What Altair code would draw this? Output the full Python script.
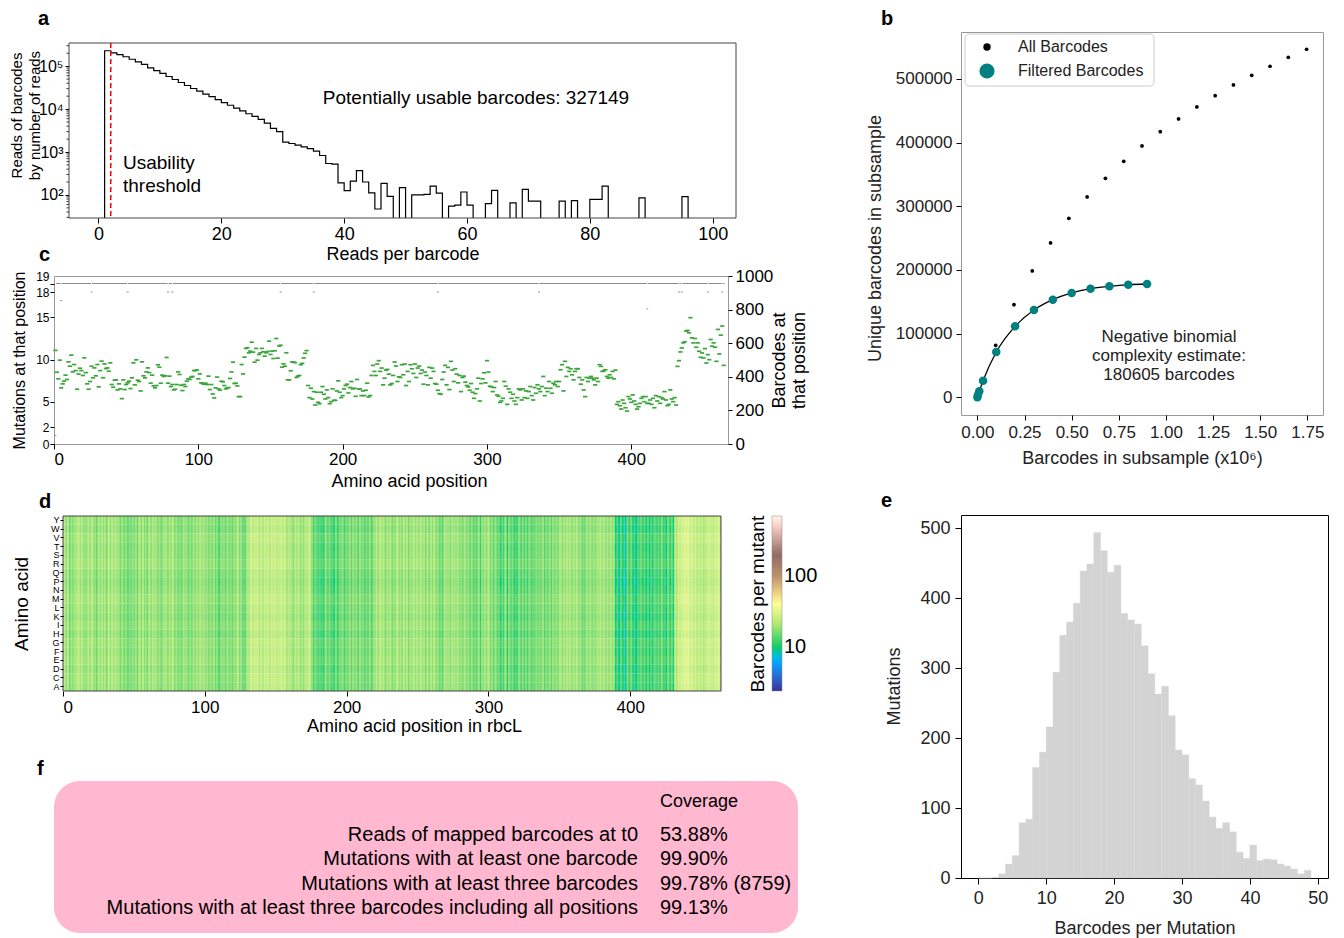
import altair as alt
import pandas as pd

FONT = "Liberation Sans"

# ---------------- panel a : reads per barcode histogram ----------------
a_bins = list(range(1, 96))
a_counts = [229000, 204000, 186000, 166000, 145000, 126000, 110000, 91000, 79000, 68000,
            57500, 49000, 41700, 35500, 30200, 26300, 22400, 19500, 16600, 14100,
            12300, 10500, 9100, 7800, 6800, 5750, 4700, 3550, 3000, 1700,
            1580, 1450, 1320, 1200, 1050, 830, 540, 525, 190, 126,
            210, 370, 200, 112, 47, 186, 93, 0, 148, 0,
            100, 100, 103, 160, 110, 0, 55, 58, 117, 58,
            0, 0, 63, 128, 0, 0, 65, 0, 135, 72,
            72, 0, 0, 0, 72, 0, 74, 0, 0, 79,
            79, 160, 0, 0, 0, 0, 0, 85, 0, 0,
            0, 0, 0, 0, 91]
a_threshold = [2]
a_major_ticks = [100, 1000, 10000, 100000]
a_minor_ticks = [30, 40, 50, 60, 70, 80, 90,
                 200, 300, 400, 500, 600, 700, 800, 900,
                 2000, 3000, 4000, 5000, 6000, 7000, 8000, 9000,
                 20000, 30000, 40000, 50000, 60000, 70000, 80000, 90000,
                 200000, 300000]
a_note = "Potentially usable barcodes: 327149"
a_thr_note = "Usability\nthreshold"

# ---------------- panel b : complexity curve ----------------
b_all_x = [0.097, 0.194, 0.291, 0.388, 0.485, 0.582, 0.679, 0.776, 0.873, 0.970,
           1.067, 1.164, 1.261, 1.358, 1.455, 1.552, 1.649, 1.746]
b_all_y = [81700, 145500, 198400, 242400, 281200, 314700, 344000, 370700, 394800, 417200,
           437200, 456000, 473800, 490600, 505800, 520000, 534100, 546700]
b_filt_x = [0.0, 0.003, 0.01, 0.03, 0.1, 0.2, 0.3, 0.4, 0.5, 0.6, 0.7, 0.8, 0.9]
b_filt_y = [0, 3500, 9400, 26100, 71200, 111500, 137100, 153300, 163900, 170600, 174300, 176900, 178000]
b_series = ["All Barcodes", "Filtered Barcodes"]
b_note = "Negative binomial\ncomplexity estimate:\n180605 barcodes"

# ---------------- panel c : per-position coverage ----------------
c_barcodes = [
    557, 427, 388, 499, 334, 358, 374, 410, 384, 489, 463, 529, 429, 473, 437, 326, 416, 451, 437, 408,
    513, 425, 358, 326, 372, 463, 394, 453, 406, 473, 340, 437, 493, 394, 477, 449, 453, 433, 483, 354,
    338, 380, 382, 322, 358, 328, 270, 382, 324, 354, 364, 374, 330, 394, 483, 352, 501, 380, 372, 316,
    489, 406, 394, 429, 453, 425, 362, 410, 346, 334, 348, 471, 457, 362, 410, 402, 406, 515, 362, 404,
    342, 354, 322, 326, 354, 429, 414, 350, 318, 354, 342, 374, 388, 384, 398, 402, 437, 437, 441, 388,
    417, 364, 360, 356, 362, 354, 404, 324, 354, 298, 274, 334, 398, 328, 320, 374, 370, 348, 328, 334,
    336, 390, 429, 487, 360, 362, 346, 282, 282, 473, 417, 517, 569, 573, 543, 553, 606, 547, 487, 569,
    499, 533, 543, 569, 549, 523, 543, 551, 612, 533, 553, 509, 555, 628, 511, 583, 588, 457, 477, 463,
    543, 382,
    382, 436, 488, 488, 484, 396, 404, 408, 472, 480, 512, 540, 556,
    348, 276, 332, 268, 312, 232, 308, 248, 240, 308, 342, 296, 268, 322, 276, 240, 252, 328, 260, 260,
    316, 376, 308, 276, 288, 328, 348, 356, 304, 336, 372, 328, 332, 284, 384, 328, 328, 288, 316, 288,
    320, 362, 280, 288,
    408, 468, 432, 408, 476, 496, 432, 452, 352, 392, 440, 444, 416, 352, 360, 408, 488, 464, 372, 400,
    396, 472, 412, 476, 348, 432, 372, 472, 448, 420, 476, 396, 452, 464, 420, 440, 356, 428, 408, 352,
    456, 392, 452, 432, 360,
    356, 320, 300, 296, 384, 428, 468, 352, 456, 324, 492, 440, 372, 448, 416, 364, 408, 312, 396, 404,
    368, 348, 340, 320, 360, 308, 272, 300, 328, 392, 256, 360, 388, 424, 364, 496, 428, 344, 340, 312,
    336, 372, 292, 284, 248, 256, 272, 372, 344, 236, 328, 308, 272, 296, 256, 236, 276, 328,
    322, 262, 328, 276, 316, 272, 312, 342, 288, 262, 336, 302, 352, 328, 312, 342, 402, 288, 332, 312,
    372, 332, 302, 362, 352, 372, 342, 372, 442, 472, 316, 492, 402, 456, 432, 448, 412, 382, 432, 448,
    448, 396, 356, 382, 322, 282, 396, 372, 392, 402, 392, 382, 352, 392, 372, 472, 462, 432, 436, 442,
    402, 392, 412, 396, 432, 388, 440,
    236, 252, 228, 208, 262, 242, 216, 196, 282, 268, 248, 292, 256, 236, 208, 222, 242, 272, 282, 252,
    282, 242, 242, 262, 236, 272, 216, 288, 256, 282, 242, 276, 268, 312, 262, 228, 236, 322, 268, 252,
    276, 232,
    462, 496, 548, 572, 602, 608, 672, 676, 662, 752, 632, 602, 628, 576, 602, 552, 516, 542, 512, 568,
    482, 532, 502, 622, 582, 602, 576, 492, 682, 536, 648, 702, 468]
c_positions = list(range(1, len(c_barcodes) + 1))
c_mut_default = 19
c_mut_exceptions = {1: 1, 5: 17, 26: 18, 51: 18, 79: 18, 82: 18, 157: 18, 180: 18, 266: 18,
                    336: 18, 411: 16, 433: 18, 435: 18, 453: 18, 463: 18}

# ---------------- panel d : heatmap ----------------
d_amino = ["Y", "W", "V", "T", "S", "R", "Q", "P", "N", "M", "L", "K", "I", "H", "G", "F", "E", "D", "C", "A"]
d_row_factor = [0.8, 0.76, 0.84, 0.78, 0.8, 0.85, 0.78, 0.74, 0.78, 0.85,
                0.8, 0.76, 0.83, 0.76, 0.84, 0.8, 0.85, 0.78, 0.83, 0.8]
d_color_domain = [2.34, 5.5, 9.8, 40.8, 170, 710]
d_color_range = ["#333399", "#0099ff", "#00cc66", "#ffff99", "#805c54", "#ffffff"]

# ---------------- panel e : barcodes per mutation ----------------
e_bins = list(range(0, 49))
e_counts = [0, 0, 1, 6, 20, 32, 79, 84, 158, 180,
            216, 294, 347, 366, 393, 439, 449, 494, 468, 437,
            447, 378, 369, 363, 332, 292, 263, 274, 232, 183,
            176, 142, 133, 110, 87, 71, 79, 66, 37, 28,
            47, 25, 27, 26, 20, 17, 13, 6, 11]

# ---------------- panel f : coverage table ----------------
f_labels = ["Reads of mapped barcodes at t0", "Mutations with at least one barcode",
            "Mutations with at least three barcodes",
            "Mutations with at least three barcodes including all positions"]
f_values = ["53.88%", "99.90%", "99.78% (8759)", "99.13%"]
f_header = "Coverage"

PINK = "#ffb8d0"
TEAL = "#008080"
GREEN = "#3aa63a"


def note(text, x, y, **kw):
    return alt.Chart(pd.DataFrame({"t": [text]})).mark_text(**kw).encode(
        x=alt.value(x), y=alt.value(y), text="t:N")


def letter(ch, x, y):
    return note(ch, x, y, fontSize=20, fontWeight="bold", align="left", baseline="alphabetic")


def spacer(h):
    return alt.Chart(pd.DataFrame({"s": [0]})).mark_point(opacity=0).encode(
        x=alt.X("s:Q", axis=None), y=alt.Y("s:Q", axis=None)
    ).properties(width=1, height=h)


def frame(x0, x1, h, color):
    return alt.Chart(pd.DataFrame({"k": [0]})).mark_rect(fillOpacity=0, stroke=color, strokeWidth=1).encode(
        x=alt.value(x0), x2=alt.value(x1), y=alt.value(0), y2=alt.value(h))


# ---------- a (plot area starts 15px right of column edge) ----------
A_OFF, A_W, A_H = 15, 682, 175
rows = [{"o": 0, "x": a_bins[0], "n": 1}]
for i, (b, c) in enumerate(zip(a_bins, a_counts)):
    rows.append({"o": i + 1, "x": b, "n": c if c > 0 else 1})
rows.append({"o": len(a_bins) + 1, "x": a_bins[-1] + 1, "n": 1})
df_a = pd.DataFrame(rows)

ax_a_x = alt.Axis(values=[0, 20, 40, 60, 80, 100], title="Reads per barcode", labelFontSize=18,
                  titleFontSize=18, tickSize=5, labelPadding=2, domain=False, titleY=36,
                  titleBaseline="middle", labelOverlap=False)
ax_a_y = alt.Axis(values=a_major_ticks,
                  labelExpr="datum.value == 100 ? '10²' : datum.value == 1000 ? '10³' : datum.value == 10000 ? '10⁴' : '10⁵'",
                  title=["Reads of barcodes", "by number of reads"], labelFontSize=16,
                  titleFontSize=15, titleLineHeight=18, tickSize=4, labelPadding=2, domain=False,
                  titleX=-53, titleY=72, titleBaseline="middle", offset=-A_OFF, labelOverlap=False)
ya = alt.Y("n:Q", scale=alt.Scale(type="log", domain=[29, 347000], nice=False), axis=ax_a_y)

a_line = alt.Chart(df_a).mark_line(interpolate="step-after", color="black", strokeWidth=1.2, clip=True).encode(
    x=alt.X("x:Q", scale=alt.Scale(domain=[-4.8, 103.8], nice=False, zero=False, range=[A_OFF, A_W]),
            axis=ax_a_x),
    y=ya, order="o:Q")
a_minor = alt.Chart(pd.DataFrame({"n": a_minor_ticks})).mark_rule(color="black", strokeWidth=0.8).encode(
    x=alt.value(A_OFF - 2.5), x2=alt.value(A_OFF), y=ya)
a_rule = alt.Chart(pd.DataFrame({"t": a_threshold})).mark_rule(color="red", strokeDash=[5, 3], strokeWidth=1.5).encode(
    x="t:Q")
a_txt1 = note(a_note, 422, 55, fontSize=19, align="center", baseline="middle")
a_txt2 = note(a_thr_note, 69, 120, fontSize=19, align="left", baseline="middle", lineBreak="\n", lineHeight=23)
chart_a = alt.layer(a_line, a_minor, a_rule, a_txt1, a_txt2, frame(A_OFF, A_W, A_H, "#444"),
                    letter("a", -16, -18)).properties(width=A_W, height=A_H)

# ---------- c ----------
c_mut = [c_mut_exceptions.get(p, c_mut_default) for p in c_positions]
df_cb = pd.DataFrame({"pos": c_positions, "bc": c_barcodes})
df_cm = pd.DataFrame({"pos": c_positions, "mut": c_mut})
dash = "M-1,-0.4L1,-0.4L1,0.4L-1,0.4Z"
xc = alt.X("pos:Q", scale=alt.Scale(domain=[0, 467], nice=False, zero=False),
           axis=alt.Axis(values=[0, 100, 200, 300, 400], title="Amino acid position", labelFontSize=17,
                         titleFontSize=18, tickSize=5, labelPadding=2, domain=False, titleY=37,
                         titleX=355, titleBaseline="middle", labelOverlap=False))
c_m = alt.Chart(df_cm).mark_point(shape=dash, filled=True, size=4, color="#777", opacity=1).encode(
    x=xc,
    y=alt.Y("mut:Q", scale=alt.Scale(domain=[0, 19.9], nice=False, zero=True),
            axis=alt.Axis(orient="left", values=[0, 2, 5, 10, 15, 18, 19], title="Mutations at that position",
                          labelFontSize=12, titleFontSize=16, tickSize=4, labelPadding=1, domain=False,
                          titleX=-35, titleY=84, titleBaseline="middle", labelOverlap=False,
                          labelBaseline={"condition": {"test": "datum.value == 19", "value": "bottom"},
                                         "value": "middle"})))
c_b = alt.Chart(df_cb).mark_point(shape=dash, filled=True, size=18, color=GREEN, opacity=1).encode(
    x=xc,
    y=alt.Y("bc:Q", scale=alt.Scale(domain=[0, 1000], nice=False),
            axis=alt.Axis(orient="right", values=[0, 200, 400, 600, 800, 1000], format="d",
                          title=["Barcodes at", "that position"], labelFontSize=17,
                          titleFontSize=18, titleLineHeight=20, titleAngle=270, tickSize=4,
                          labelPadding=3, domain=False, titleX=51, titleBaseline="middle",
                          labelOverlap=False)))
chart_c = alt.layer(c_m, c_b, letter("c", -15, -15)).resolve_scale(y="independent").properties(
    width=674, height=168, view=alt.ViewBackground(stroke="#999", strokeWidth=1))

# ---------- d (plot area starts 9px right of column edge) ----------
D_OFF, D_W, D_H = 9, 667, 175
cells = []
for p, g in zip(c_positions, c_barcodes):
    for aa, f in zip(d_amino, d_row_factor):
        cells.append({"x0": p - 1, "x1": p, "aa": aa, "v": round(g / 19 * f, 2)})
df_d = pd.DataFrame(cells)
d_rect = alt.Chart(df_d).mark_rect(strokeWidth=0).encode(
    x=alt.X("x0:Q", scale=alt.Scale(domain=[0, len(c_positions)], nice=False, zero=False, range=[D_OFF, D_W]),
            axis=alt.Axis(values=[0, 100, 200, 300, 400], title="Amino acid position in rbcL",
                          labelFontSize=17, titleFontSize=18, tickSize=5, labelPadding=3, domain=False,
                          titleY=35, titleX=360, titleBaseline="middle", labelOverlap=False)),
    x2="x1:Q",
    y=alt.Y("aa:N", sort=d_amino,
            axis=alt.Axis(title="Amino acid", labelFontSize=9, titleFontSize=19, tickSize=3,
                          labelPadding=1, domain=False, titleX=-42, titleBaseline="middle",
                          offset=-D_OFF, labelOverlap=False)),
    color=alt.Color("v:Q", scale=alt.Scale(type="log", domain=d_color_domain, range=d_color_range),
                    legend=alt.Legend(title=None, orient="right", offset=51, gradientLength=175,
                                      gradientThickness=10, values=[10, 100], labelFontSize=20,
                                      direction="vertical", gradientStrokeColor="#888",
                                      gradientStrokeWidth=0.5, labelColor="black")))
d_txt = note("Barcodes per mutant", 704, 88, fontSize=19, angle=270, align="center", baseline="middle")
chart_d = alt.layer(d_rect, d_txt, frame(D_OFF, D_W, D_H, "#444"), letter("d", -15, -8)).properties(
    width=D_W, height=D_H)

# ---------- f ----------
df_f = pd.DataFrame({"row": list(range(len(f_labels))), "label": f_labels, "value": f_values})
f_rect = alt.Chart(pd.DataFrame({"k": [0]})).mark_rect(color=PINK, cornerRadius=26).encode(
    x=alt.value(0), x2=alt.value(744), y=alt.value(0), y2=alt.value(152))
f_head = note(f_header, 606, 21, fontSize=18, align="left", baseline="middle")
fy = alt.Y("row:O", axis=None, scale=alt.Scale(type="point", range=[54, 127], padding=0))
f_lab = alt.Chart(df_f).mark_text(fontSize=20, align="right", baseline="middle").encode(
    x=alt.value(584), y=fy, text="label:N")
f_val = alt.Chart(df_f).mark_text(fontSize=20, align="left", baseline="middle").encode(
    x=alt.value(606), y=fy, text="value:N")
chart_f = alt.layer(f_rect, f_head, f_lab, f_val, letter("f", -17, -6)).properties(width=744, height=152)

# ---------- b ----------
df_ball = pd.DataFrame({"x": b_all_x, "y": b_all_y})
df_bf = pd.DataFrame({"x": b_filt_x, "y": b_filt_y})
xb = alt.X("x:Q", scale=alt.Scale(domain=[-0.087, 1.833], nice=False, zero=False),
           axis=alt.Axis(values=[0, 0.25, 0.5, 0.75, 1.0, 1.25, 1.5, 1.75], format=".2f",
                         title="Barcodes in subsample (x10⁶)", labelFontSize=17, titleFontSize=18,
                         tickSize=5, labelPadding=4, domain=False, titleY=43, titleBaseline="middle",
                         labelColor="#222", titleColor="#222", labelOverlap=False))
yb = alt.Y("y:Q", scale=alt.Scale(domain=[-27800, 573800], nice=False, zero=False),
           axis=alt.Axis(values=[0, 100000, 200000, 300000, 400000, 500000], format="d",
                         title="Unique barcodes in subsample", labelFontSize=17, titleFontSize=18,
                         tickSize=5, labelPadding=4, domain=False, titleX=-86, titleY=206,
                         titleBaseline="middle", labelColor="#222", titleColor="#222",
                         labelOverlap=False))
b_line = alt.Chart(df_bf).mark_line(color="black", strokeWidth=1.3, interpolate="monotone").encode(x=xb, y=yb)
b_all = alt.Chart(df_ball).mark_circle(opacity=1, size=14, color="black").encode(x=xb, y=yb)
b_filt = alt.Chart(df_bf).mark_circle(opacity=1, size=72, color=TEAL).encode(x=xb, y=yb)
b_txt = note(b_note, 208, 305, fontSize=17, align="center", baseline="middle", lineBreak="\n",
             lineHeight=19, color="#222")
b_leg_box = alt.Chart(pd.DataFrame({"k": [0]})).mark_rect(
    fill="white", stroke="#cccccc", strokeWidth=1, cornerRadius=4).encode(
    x=alt.value(4), x2=alt.value(193), y=alt.value(2), y2=alt.value(54))
b_leg_s1 = alt.Chart(pd.DataFrame({"s": [b_series[0]]})).mark_circle(size=55, color="black", opacity=1).encode(
    x=alt.value(26), y=alt.value(15))
b_leg_s2 = alt.Chart(pd.DataFrame({"s": [b_series[1]]})).mark_circle(size=230, color=TEAL, opacity=1).encode(
    x=alt.value(26), y=alt.value(39))
b_leg_t1 = note(b_series[0], 57, 15, fontSize=16, align="left", baseline="middle", color="#222")
b_leg_t2 = note(b_series[1], 57, 39, fontSize=16, align="left", baseline="middle", color="#222")
chart_b = alt.layer(b_line, b_all, b_filt, b_txt, b_leg_box, b_leg_s1, b_leg_s2, b_leg_t1, b_leg_t2,
                    letter("b", -80, -7)).properties(
    width=362, height=383, view=alt.ViewBackground(stroke="#999", strokeWidth=1))

# ---------- e ----------
df_e = pd.DataFrame({"b0": e_bins, "b1": [b + 1 for b in e_bins], "n": e_counts})
e_bars = alt.Chart(df_e).mark_bar(color="#d3d3d3", stroke="#d3d3d3", strokeWidth=0.4).encode(
    x=alt.X("b0:Q", scale=alt.Scale(domain=[-2.55, 51.5], nice=False, zero=False),
            axis=alt.Axis(values=[0, 10, 20, 30, 40, 50], title="Barcodes per Mutation",
                          labelFontSize=18, titleFontSize=18, tickSize=6, labelPadding=5, domain=False,
                          titleY=50, titleBaseline="middle", labelColor="#222", titleColor="#222",
                          labelOverlap=False)),
    x2="b1:Q",
    y=alt.Y("n:Q", scale=alt.Scale(domain=[0, 519], nice=False),
            axis=alt.Axis(values=[0, 100, 200, 300, 400, 500], title="Mutations",
                          labelFontSize=18, titleFontSize=18, tickSize=6, labelPadding=5, domain=False,
                          titleX=-67, titleY=171, titleBaseline="middle", labelColor="#222",
                          titleColor="#222", labelOverlap=False)),
    y2=alt.datum(0))
chart_e = alt.layer(e_bars, letter("e", -80, -8)).properties(
    width=367, height=363, view=alt.ViewBackground(stroke="black", strokeWidth=1))

# ---------- layout ----------
left = alt.vconcat(spacer(11), chart_a, spacer(58), chart_c, spacer(72), chart_d,
                   spacer(90), chart_f, spacing=0, bounds="flush").resolve_scale(color="independent")
right = alt.vconcat(chart_b, spacer(100), chart_e, spacing=0, bounds="flush")

chart = alt.hconcat(left, right, spacing=46).resolve_scale(color="independent").properties(
    padding=0, background="white"
).configure_view(stroke="transparent").configure_axis(
    grid=False, tickColor="black", labelColor="black", titleColor="black",
    labelFont=FONT, titleFont=FONT, titleFontWeight="normal"
).configure_text(font=FONT, color="black")

chart.save("out.html", embed_options={"renderer": "svg", "actions": False})
